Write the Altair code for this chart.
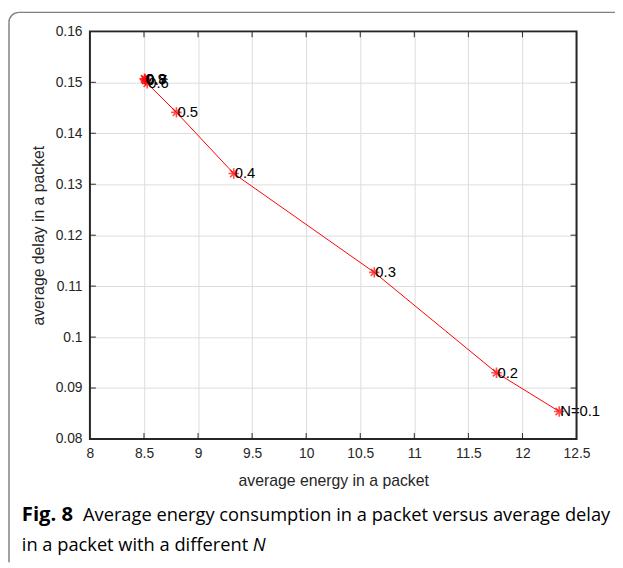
import altair as alt
import pandas as pd

# ---- data ----
n_labels = ["N=0.1", "0.2", "0.3", "0.4", "0.5", "0.6", "0.7", "0.8", "0.9"]
n_order = [1, 2, 3, 4, 5, 6, 7, 8, 9]
energy = [12.34, 11.76, 10.63, 9.33, 8.80, 8.53, 8.515, 8.51, 8.505]
delay = [0.0854, 0.0930, 0.1127, 0.1321, 0.1441, 0.1498, 0.1504, 0.1506, 0.1507]

x_ticks = [8, 8.5, 9, 9.5, 10, 10.5, 11, 11.5, 12, 12.5]
y_ticks = [0.08, 0.09, 0.10, 0.11, 0.12, 0.13, 0.14, 0.15, 0.16]

df = pd.DataFrame({"label": n_labels, "order": n_order, "energy": energy, "delay": delay})
xt = pd.DataFrame({"t": x_ticks[1:-1]})
yt = pd.DataFrame({"t": y_ticks[1:-1]})

W, H = 493, 413
PADL, PADT, PADR, PADB = 83, 20, 39, 125
FONT = "Liberation Sans"
INK = "#262626"

xs = alt.Scale(domain=[8, 12.5], nice=False, zero=False)
ys = alt.Scale(domain=[0.08, 0.16], nice=False, zero=False)

xenc = alt.X("energy:Q", scale=xs, axis=alt.Axis(
    values=x_ticks, format="~g", title="average energy in a packet",
    grid=True, gridColor="#dcdcdc", domain=False, ticks=False, labelFlush=False,
    labelPadding=8, labelFont=FONT, labelFontSize=14, labelColor=INK,
    titleFont=FONT, titleFontSize=16, titleFontWeight="normal", titleColor=INK,
    titlePadding=12))
yenc = alt.Y("delay:Q", scale=ys, axis=alt.Axis(
    values=y_ticks, format="~g", title="average delay in a packet",
    grid=True, gridColor="#dcdcdc", domain=False, ticks=False, labelFlush=False,
    labelPadding=8, labelFont=FONT, labelFontSize=14, labelColor=INK,
    titleFont=FONT, titleFontSize=16, titleFontWeight="normal", titleColor=INK,
    titlePadding=9))

base = alt.Chart(df)

line = base.mark_line(color="red", strokeWidth=1).encode(x=xenc, y=yenc, order="order:Q")

star = "M0,-1L0,1M-1,0L1,0M-0.7071,-0.7071L0.7071,0.7071M-0.7071,0.7071L0.7071,-0.7071"
pts = base.mark_point(shape=star, size=110, filled=False, color="red", strokeWidth=1.6).encode(
    x=alt.X("energy:Q", scale=xs), y=alt.Y("delay:Q", scale=ys))

labels = base.mark_text(align="left", baseline="middle", dx=1, font=FONT, fontSize=15, color="black").encode(
    x=alt.X("energy:Q", scale=xs), y=alt.Y("delay:Q", scale=ys), text="label:N")

one = pd.DataFrame({"a": [0]})

# plot box (MATLAB "box on")
box = alt.Chart(one).mark_rect(fill=None, stroke=INK, strokeWidth=2).encode(
    x=alt.value(0), x2=alt.value(W), y=alt.value(0), y2=alt.value(H))

tick_style = dict(color=INK, strokeWidth=1)
xt_bot = alt.Chart(xt).mark_rule(**tick_style).encode(
    x=alt.X("t:Q", scale=xs), y=alt.value(H), y2=alt.value(H - 6))
xt_top = alt.Chart(xt).mark_rule(**tick_style).encode(
    x=alt.X("t:Q", scale=xs), y=alt.value(0), y2=alt.value(6))
yt_left = alt.Chart(yt).mark_rule(**tick_style).encode(
    y=alt.Y("t:Q", scale=ys), x=alt.value(0), x2=alt.value(6))
yt_right = alt.Chart(yt).mark_rule(**tick_style).encode(
    y=alt.Y("t:Q", scale=ys), x=alt.value(W), x2=alt.value(W - 6))

# decorative frame (top + left edges with rounded corner), kept inside the svg
FX, FY, R = -PADL + 1, -PADT + 0.75, 10
fstyle = dict(color="#808080", strokeWidth=1.5)
frame_top = alt.Chart(one).mark_rule(**fstyle).encode(
    x=alt.value(FX + R), x2=alt.value(W + PADR), y=alt.value(FY))
frame_left = alt.Chart(one).mark_rule(**fstyle).encode(
    x=alt.value(FX), y=alt.value(FY + R), y2=alt.value(H + PADB))
frame_corner = alt.Chart(one).mark_arc(
    innerRadius=R, outerRadius=R, stroke="#808080", strokeWidth=1.5, fill=None,
    theta=4.7124, theta2=6.2832).encode(x=alt.value(FX + R), y=alt.value(FY + R))

cap_y1 = 490
cap_y2 = 520
CAPF = "Open Sans"
CS = 18.5
cap1 = alt.Chart(pd.DataFrame({"s": ["Fig. 8"]})).mark_text(
    align="left", baseline="middle", font=CAPF, fontSize=20.5, fontWeight="bold", color="black").encode(
    text="s:N", x=alt.value(-69), y=alt.value(cap_y1))
cap2 = alt.Chart(pd.DataFrame({"s": ["Average energy consumption in a packet versus average delay"]})).mark_text(
    align="left", baseline="middle", font=CAPF, fontSize=CS, color="black").encode(
    text="s:N", x=alt.value(-7), y=alt.value(cap_y1))
cap3 = alt.Chart(pd.DataFrame({"s": ["in a packet with a different"]})).mark_text(
    align="left", baseline="middle", font=CAPF, fontSize=CS, color="black").encode(
    text="s:N", x=alt.value(-69), y=alt.value(cap_y2))
cap4 = alt.Chart(pd.DataFrame({"s": ["N"]})).mark_text(
    align="left", baseline="middle", font=CAPF, fontSize=CS, fontStyle="italic", color="black").encode(
    text="s:N", x=alt.value(165), y=alt.value(cap_y2))

chart = alt.layer(frame_top, frame_left, frame_corner, line, pts, labels, box,
                  xt_bot, xt_top, yt_left, yt_right,
                  cap1, cap2, cap3, cap4).properties(
    width=W, height=H,
    padding={"left": PADL, "top": PADT, "right": PADR, "bottom": PADB},
    autosize=alt.AutoSizeParams(type="none"),
).configure_view(stroke=INK, strokeWidth=2).configure(background="white")

chart.save("out.html", embed_options={"renderer": "svg", "actions": False})
